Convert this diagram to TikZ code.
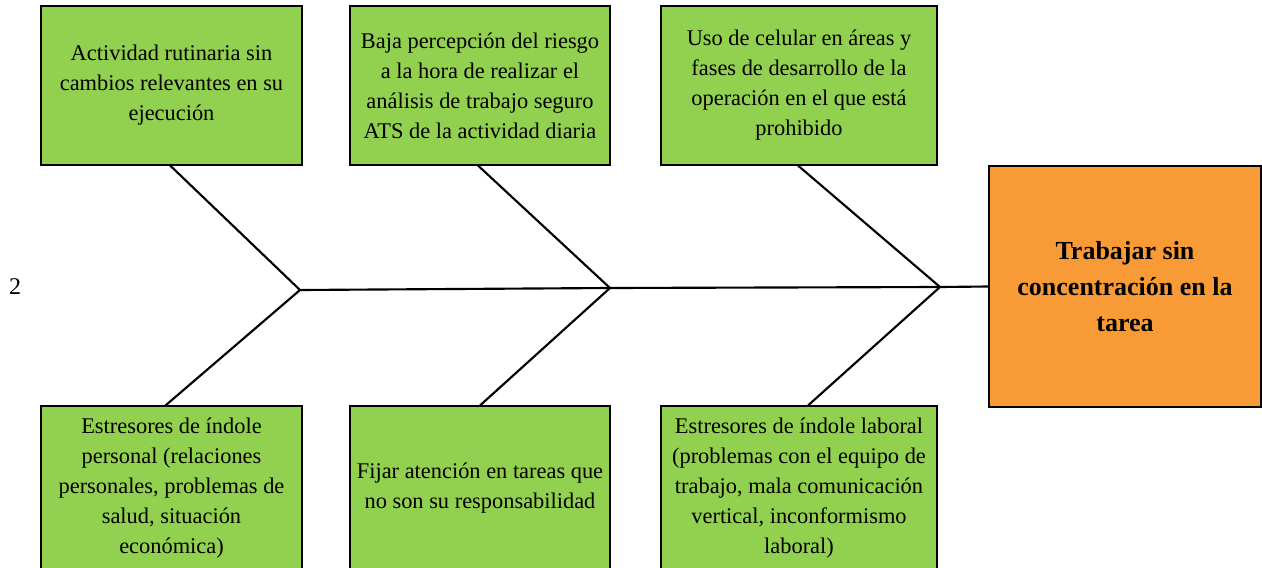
\documentclass[tikz,border=0pt]{standalone}
\usepackage{fontspec}
\setmainfont{Liberation Serif}
\usepackage{xcolor}
\definecolor{causegreen}{HTML}{92D050}
\definecolor{effectorange}{HTML}{F89B36}
\tikzset{
  causebox/.style={draw=black, fill=causegreen, line width=0.8pt, align=center,
    minimum height=119.25pt, inner sep=0pt,
    font=\fontsize{16.8}{22.5}\selectfont},
  effectbox/.style={draw=black, fill=effectorange, line width=0.8pt, align=center,
    minimum width=204pt, minimum height=180.75pt, inner sep=0pt,
    font=\fontsize{19.5}{27}\selectfont\bfseries},
  bone/.style={line width=1.6pt}
}
\begin{document}
\begin{tikzpicture}[x=0.75pt,y=-0.75pt]
\useasboundingbox (0,0) rectangle (1262,567);

\node[causebox, minimum width=195.75pt] (tl) at (171.5,85.5)
  {Actividad rutinaria sin\\ cambios relevantes en su\\ ejecución};
\node[causebox, minimum width=195pt] (tm) at (480,85.5)
  {Baja percepción del riesgo\\ a la hora de realizar el\\ análisis de trabajo seguro\\ ATS de la actividad diaria};
\node[causebox, minimum width=207pt] (tr) at (799,85.5)
  {Uso de celular en áreas y\\ fases de desarrollo de la\\ operación en el que está\\ prohibido};

\node[causebox, minimum width=195.75pt, minimum height=123pt] (bl) at (171.5,488)
  {Estresores de índole\\ personal (relaciones\\ personales, problemas de\\ salud, situación\\ económica)};
\node[causebox, minimum width=195pt, minimum height=123pt] (bm) at (480,488)
  {Fijar atención en tareas que\\ no son su responsabilidad};
\node[causebox, minimum width=207pt, minimum height=123pt] (br) at (799,488)
  {Estresores de índole laboral\\ (problemas con el equipo de\\ trabajo, mala comunicación\\ vertical, inconformismo\\ laboral)};

\node[effectbox] (effect) at (1125,286.5)
  {Trabajar sin\\ concentración en la\\ tarea};

\node[font=\fontsize{18}{20}\selectfont] (num) at (15,287) {2};

\coordinate (j1) at (300,290);
\coordinate (j2) at (610,288);
\coordinate (j3) at (940,287);

\draw[bone] (j1) -- (j2) -- (j3) -- (effect.west);

\draw[bone] ([xshift=-1pt]tl.south) -- (j1);
\draw[bone] ([xshift=-1.5pt]tm.south) -- (j2);
\draw[bone] ([xshift=-0.75pt]tr.south) -- (j3);

\draw[bone] ([xshift=-4.5pt]bl.north) -- (j1);
\draw[bone] (bm.north) -- (j2);
\draw[bone] ([xshift=6.75pt]br.north) -- (j3);

\end{tikzpicture}
\end{document}
